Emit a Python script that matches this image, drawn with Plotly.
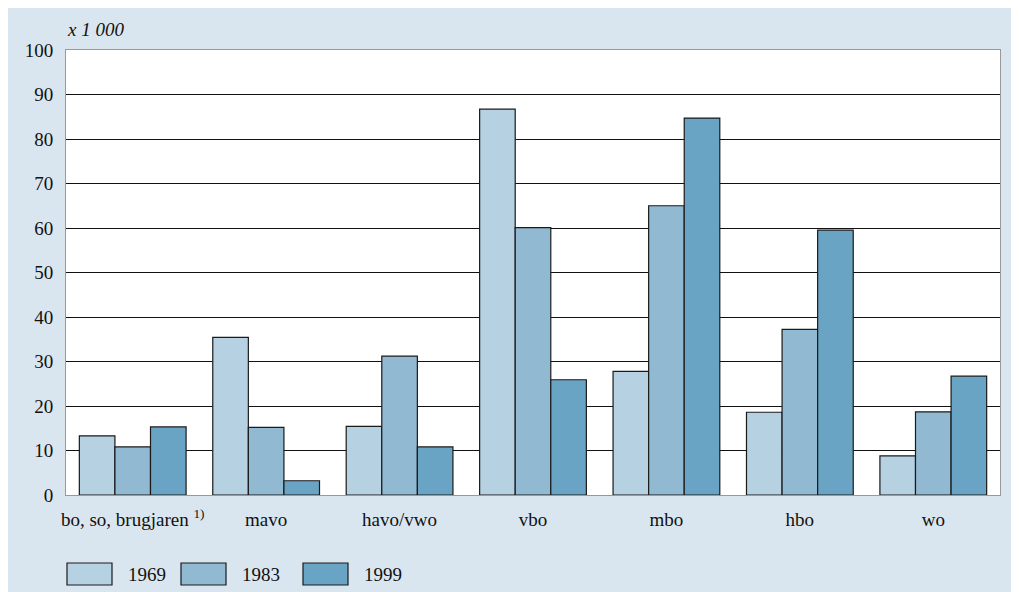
import plotly.graph_objects as go

categories = ["bo, so, brugjaren <sup>1)</sup>", "mavo", "havo/vwo", "vbo", "mbo", "hbo", "wo"]
years = ["1969", "1983", "1999"]
v1969 = [13.3, 35.4, 15.4, 86.7, 27.8, 18.6, 8.8]
v1983 = [10.8, 15.2, 31.2, 60.1, 65.0, 37.2, 18.7]
v1999 = [15.3, 3.2, 10.8, 25.9, 84.7, 59.5, 26.7]
yticks = [0, 10, 20, 30, 40, 50, 60, 70, 80, 90, 100]

colors = ["#b6d1e2", "#92b9d2", "#6aa4c4"]
series = [v1969, v1983, v1999]
FONT = "Liberation Serif"
FS = 19

OFF = 8  # page body margin
W, H = 1011, 584
L, R, T, B = 58, 19, 42, 97
pw, ph = W - L - R, H - T - B

def px2x(p):
    return (p - OFF - L) / pw

def px2y(p):
    return (H - B - (p - OFF)) / ph

fig = go.Figure()
for name, vals, c in zip(years, series, colors):
    fig.add_trace(go.Bar(x=categories, y=vals, name=name,
                         marker=dict(color=c, line=dict(color="#1a1a1a", width=1.2)),
                         showlegend=False))

shapes = []
annotations = [dict(text="<i>x 1 000</i>", xref="paper", yref="paper", x=px2x(65), y=px2y(30), xanchor="left",
                    yanchor="middle", showarrow=False, font=dict(family=FONT, size=FS, color="#111"))]
box_x = [67, 181, 303]
for i, (name, c) in enumerate(zip(years, colors)):
    x0 = box_x[i]
    shapes.append(dict(type="rect", xref="paper", yref="paper", x0=px2x(x0), x1=px2x(x0 + 45),
                       y0=px2y(585), y1=px2y(563),
                       fillcolor=c, line=dict(color="#1a1a1a", width=1.2)))
    annotations.append(dict(text=name, xref="paper", yref="paper", x=px2x(x0 + 59), y=px2y(574), xanchor="left",
                            yanchor="middle", showarrow=False, font=dict(family=FONT, size=FS, color="#111")))

fig.update_layout(
    width=W, height=H,
    margin=dict(l=L, r=R, t=T, b=B, autoexpand=False),
    paper_bgcolor="#dae6ef", plot_bgcolor="white",
    barmode="group", bargap=0.2, bargroupgap=0,
    font=dict(family=FONT, size=FS, color="#111"),
    shapes=shapes, annotations=annotations,
    xaxis=dict(showgrid=False, showline=True, linecolor="#999", linewidth=1, mirror=True,
               ticks="outside", ticklen=7, tickcolor="rgba(0,0,0,0)",
               tickfont=dict(family=FONT, size=FS, color="#111")),
    yaxis=dict(range=[0, 100], tickvals=yticks, showgrid=True, gridcolor="#111", gridwidth=1,
               showline=True, linecolor="#999", linewidth=1, mirror=True, zeroline=False,
               ticks="outside", ticklen=8, tickcolor="rgba(0,0,0,0)",
               tickfont=dict(family=FONT, size=FS, color="#111")),
)
fig.write_html("out.html")
